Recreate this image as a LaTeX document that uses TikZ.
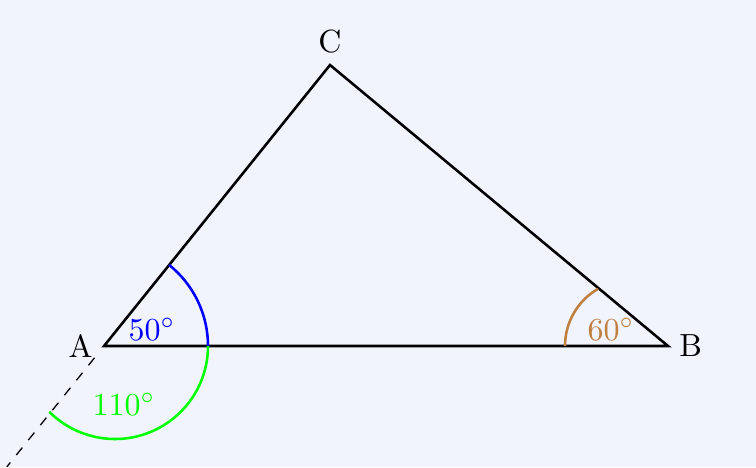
\documentclass[tikz,border=0pt]{standalone}
\usepackage{amsmath, amssymb, xcolor, tikz}
\usetikzlibrary{calc}
\definecolor{paper}{RGB}{241,243,253}
\tikzset{
side/.style={thick, line join=miter},
angle arc/.style={thick},
angle text/.style={inner sep=0pt},
}

\begin{document}
\begin{tikzpicture}[x=0.01098cm, y=0.01098cm]
    \fill[paper] (0,0) rectangle (756,467);
    \useasboundingbox (0,0) rectangle (756,467);

    \coordinate (A) at (104,121);
    \coordinate (B) at (668,121);
    \coordinate (C) at (330,402);

    \node[left] (la) at (A) {A};
    \node[right] (lb) at (B) {B};
    \node[above] (lc) at (C) {C};

    \draw[side] (A) -- (B) -- (C) -- cycle;
    \draw[dashed] ($(A)!-0.042!(C)$) -- ($(A)!-0.43!(C)$);

    % angles
    \draw[angle arc, blue] (A) ++(0:104) arc (0:51.2:104);
    \draw[angle arc, green] (A) ++(0:104) arc (0:-135:93);
    \draw[angle arc, brown] (B) ++(180:103) arc (180:120:66);

    \node[angle text, blue] (a50) at (152,138) {$50^\circ$};
    \node[angle text, brown] (a60) at (611,138) {$60^\circ$};
    \node[angle text, green] (a110) at (124,63) {$110^\circ$};
\end{tikzpicture}
\end{document}
